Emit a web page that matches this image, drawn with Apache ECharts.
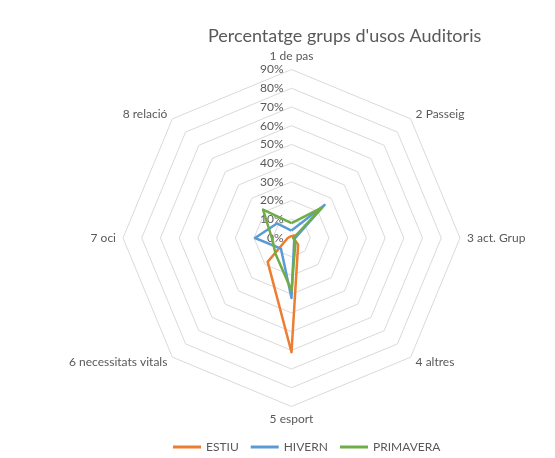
<!DOCTYPE html>
<html>
<head>
<meta charset="utf-8">
<script src="https://cdn.jsdelivr.net/npm/echarts@6/dist/echarts.min.js"></script>
<style>
  html, body { margin: 0; padding: 0; background: #fff; }
  #chart { width: 555px; height: 458px; }
</style>
</head>
<body>
<div id="chart"></div>
<script>
// categories (eixos), en l'ordre del gràfic (sentit horari)
const indicators = ['1 de pas', '2 Passeig', '3 act. Grup', '4 altres', '5 esport', '6 necessitats vitals', '7 oci', '8 relació'];
// valors llegits del gràfic (%)
const estiu     = [1, 2, 1, 5, 61, 18, 2, 1];
const hivern    = [4, 25, 2, 2, 32, 8, 19.5, 11];
const primavera = [8, 23, 1, 3, 28, 12, 10.5, 21.5];
const maxVal = 90;

const FONT = 'Lato, "Open Sans", sans-serif';
const GREY = '#595959';

// el radar d'ECharts va en sentit antihorari: reordenem 1,8,7,...,2
const order = indicators.map((_, i) => (indicators.length - i) % indicators.length);
const reorder = arr => order.map(i => arr[i]);

const chart = echarts.init(document.getElementById('chart'), null, { renderer: 'canvas' });

function serie(name, data, color) {
  return {
    type: 'radar',
    name,
    data: [{ value: reorder(data), name }],
    symbol: 'none',
    lineStyle: { color, width: 2.5 },
    itemStyle: { color }
  };
}

chart.setOption({
  animation: false,
  title: {
    text: "Percentatge grups d'usos Auditoris",
    left: 203, top: 22,
    textStyle: { fontFamily: FONT, fontSize: 18, fontWeight: 'normal', color: GREY }
  },
  legend: {
    top: 436, left: 168,
    icon: 'rect', itemWidth: 28, itemHeight: 3, itemGap: 12, itemTextGap: 4,
    textStyle: { fontFamily: FONT, fontSize: 12, color: GREY },
    data: ['ESTIU', 'HIVERN', 'PRIMAVERA']
  },
  radar: {
    center: [291.5, 238],
    radius: 168.5,
    shape: 'polygon',
    startAngle: 90,
    splitNumber: 9,
    nameGap: 7,
    axisName: { fontFamily: FONT, fontSize: 12, color: GREY },
    axisLine: { show: false },
    axisTick: { show: false },
    splitArea: { show: false },
    splitLine: { lineStyle: { color: '#d9d9d9', width: 1 } },
    indicator: order.map((idx, i) => ({
      name: indicators[idx], min: 0, max: maxVal,
      axisLabel: i === 0 ? {
        show: true, fontFamily: FONT, fontSize: 12, color: GREY,
        formatter: v => v + '%'
      } : { show: false }
    }))
  },
  series: [
    serie('ESTIU', estiu, '#ED7D31'),
    serie('HIVERN', hivern, '#5B9BD5'),
    serie('PRIMAVERA', primavera, '#70AD47')
  ]
});
</script>
</body>
</html>
